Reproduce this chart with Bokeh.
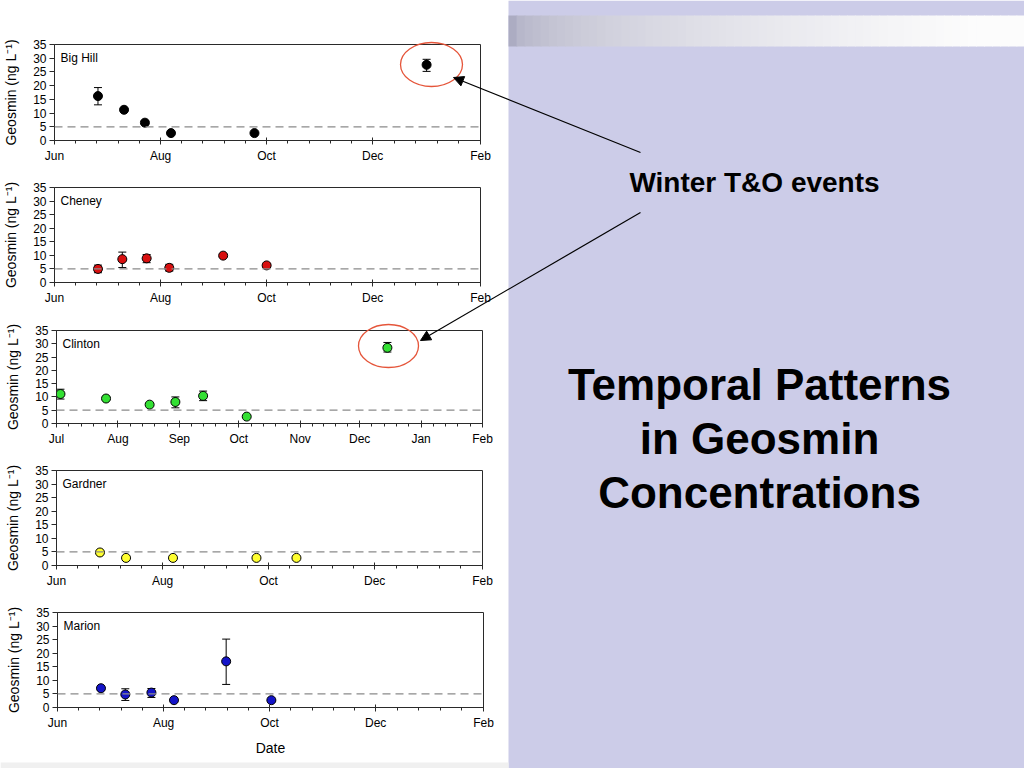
import math
import datetime as dt
from bokeh.plotting import figure
from bokeh.models import (Range1d, FixedTicker, DatetimeTickFormatter, Span, Label,
                          Arrow, NormalHead, Whisker, TeeHead, ColumnDataSource,
                          GridBox, Spacer)
from bokeh.layouts import column
from bokeh.embed import file_html
from bokeh.resources import INLINE

# ---------------- data ----------------
bighill_dates = ["2008-06-26", "2008-07-11", "2008-07-23", "2008-08-07", "2008-09-24", "2009-01-01"]
bighill_vals = [16.2, 11.2, 6.5, 2.7, 2.7, 27.6]
bighill_lo = [13.0, 10.95, 5.8, 2.45, 2.45, 25.2]
bighill_hi = [19.3, 11.45, 7.2, 2.95, 2.95, 29.6]

cheney_dates = ["2008-06-26", "2008-07-10", "2008-07-24", "2008-08-06", "2008-09-06", "2008-10-01"]
cheney_vals = [5.0, 8.6, 8.9, 5.4, 9.9, 6.3]
cheney_lo = [3.6, 5.5, 7.3, 4.2, 9.2, 5.5]
cheney_hi = [6.4, 11.2, 10.3, 6.7, 10.5, 7.0]

clinton_dates = ["2008-07-03", "2008-07-26", "2008-08-17", "2008-08-30", "2008-09-13", "2008-10-05", "2008-12-15"]
clinton_vals = [11.1, 9.4, 7.1, 8.1, 10.4, 2.6, 28.5]
clinton_lo = [9.2, 8.8, 6.6, 5.9, 8.6, 2.35, 26.9]
clinton_hi = [12.9, 10.2, 7.6, 10.0, 12.2, 2.85, 30.5]

gardner_dates = ["2008-06-26", "2008-07-11", "2008-08-07", "2008-09-24", "2008-10-17"]
gardner_vals = [4.8, 2.8, 2.8, 2.8, 2.8]
gardner_lo = [4.0, 2.55, 2.55, 2.55, 2.55]
gardner_hi = [5.6, 3.05, 3.05, 3.05, 3.05]

marion_dates = ["2008-06-26", "2008-07-10", "2008-07-25", "2008-08-07", "2008-09-06", "2008-10-02"]
marion_vals = [7.1, 4.8, 5.5, 2.7, 17.0, 2.7]
marion_lo = [6.3, 2.6, 3.7, 2.45, 8.5, 2.45]
marion_hi = [7.8, 6.9, 7.0, 2.95, 25.2, 2.95]

bimonthly_ticks = ["2008-06-01", "2008-08-01", "2008-10-01", "2008-12-01", "2009-02-01"]
monthly_ticks = ["2008-07-01", "2008-08-01", "2008-09-01", "2008-10-01", "2008-11-01",
                 "2008-12-01", "2009-01-01", "2009-02-01"]
y_ticks = [0, 5, 10, 15, 20, 25, 30, 35]
threshold = 5

names = ["Big Hill", "Cheney", "Clinton", "Gardner", "Marion"]
colors = ["#000000", "#D81010", "#33E033", "#FFFF30", "#1414C8"]

FONT = "Liberation Sans"


def ms(s):
    d = dt.datetime.fromisoformat(s).replace(tzinfo=dt.timezone.utc)
    return d.timestamp() * 1000.0


def minor_between(majors, n=5):
    out = []
    for a, b in zip(majors[:-1], majors[1:]):
        for k in range(1, n):
            out.append(a + (b - a) * k / n)
    return out


# page-pixel layout of each panel: frame left/right/top/bottom, figure top/bottom
layout_px = [
    dict(L=54, R=480, T=44, B=140, ft=0, fb=166),
    dict(L=54, R=480, T=187, B=282, ft=166, fb=308),
    dict(L=56, R=482, T=330, B=425, ft=308, fb=448),
    dict(L=56, R=482, T=470, B=567, ft=448, fb=590),
    dict(L=57, R=483, T=612, B=707, ft=590, fb=768),
]

series = [
    (bighill_dates, bighill_vals, bighill_lo, bighill_hi, bimonthly_ticks),
    (cheney_dates, cheney_vals, cheney_lo, cheney_hi, bimonthly_ticks),
    (clinton_dates, clinton_vals, clinton_lo, clinton_hi, monthly_ticks),
    (gardner_dates, gardner_vals, gardner_lo, gardner_hi, bimonthly_ticks),
    (marion_dates, marion_vals, marion_lo, marion_hi, bimonthly_ticks),
]

LEFT_W = 508
figs = []
for i, (dates, vals, lo, hi, ticks) in enumerate(series):
    g = layout_px[i]
    majors = [ms(t) for t in ticks]
    x0, x1 = majors[0], majors[-1]
    p = figure(width=LEFT_W, height=g["fb"] - g["ft"], x_axis_type="datetime",
               x_range=Range1d(x0, x1), y_range=Range1d(0, 35),
               output_backend="svg", toolbar_location=None, min_border=0,
               min_border_left=g["L"], min_border_right=LEFT_W - g["R"],
               min_border_top=g["T"] - g["ft"], min_border_bottom=g["fb"] - g["B"])
    p.background_fill_color = "white"
    p.border_fill_color = "white"
    p.outline_line_color = "#2a2a2a"
    p.outline_line_width = 1
    p.grid.grid_line_color = None

    xa = p.xaxis[0]
    xa.ticker = FixedTicker(ticks=majors, minor_ticks=minor_between(majors))
    xa.formatter = DatetimeTickFormatter(days="%b", months="%b", years="%b")
    xa.major_tick_in = 3
    xa.major_tick_out = 4
    xa.minor_tick_in = 0
    xa.minor_tick_out = 3
    xa.major_label_standoff = 4
    xa.major_label_text_font = FONT
    xa.major_label_text_font_size = "12px"
    xa.major_label_text_color = "black"
    xa.axis_line_color = "#2a2a2a"
    xa.major_tick_line_color = "#2a2a2a"
    xa.minor_tick_line_color = "#2a2a2a"
    if i == 4:
        xa.axis_label = "Date"
        xa.axis_label_text_font = FONT
        xa.axis_label_text_font_style = "normal"
        xa.axis_label_text_font_size = "14px"
        xa.axis_label_text_color = "black"
        xa.axis_label_standoff = 7

    ya = p.yaxis[0]
    ya.ticker = FixedTicker(ticks=y_ticks)
    ya.major_tick_in = 0
    ya.major_tick_out = 5
    ya.major_label_standoff = 3
    ya.major_label_text_font = FONT
    ya.major_label_text_font_size = "12px"
    ya.major_label_text_color = "black"
    ya.axis_line_color = "#2a2a2a"
    ya.major_tick_line_color = "#2a2a2a"
    ya.axis_label = "Geosmin (ng L\u207b\u00b9)"
    ya.axis_label_text_font = FONT
    ya.axis_label_text_font_style = "normal"
    ya.axis_label_text_font_size = "14px"
    ya.axis_label_text_color = "black"
    ya.axis_label_standoff = 11

    p.add_layout(Span(location=threshold, dimension="width", line_color="#8a8a8a",
                      line_dash="8 5", line_width=1.2))

    xs = [ms(d) for d in dates]
    src = ColumnDataSource(dict(x=xs, y=vals, lo=lo, hi=hi))
    p.add_layout(Whisker(source=src, base="x", upper="hi", lower="lo", dimension="height",
                         line_color="black", line_width=1,
                         upper_head=TeeHead(size=8, line_color="black", line_width=1),
                         lower_head=TeeHead(size=8, line_color="black", line_width=1)))
    p.scatter("x", "y", source=src, size=9, fill_color=colors[i],
              line_color="black", line_width=1)

    p.add_layout(Label(x=x0, y=35, x_offset=6, y_offset=-6, text=names[i],
                       text_baseline="top", text_font=FONT, text_font_size="12px",
                       text_color="black"))
    figs.append(p)

# ---------------- full-page overlay: slide panel, arrows, circles ----------------
ov = figure(width=1024, height=768, x_range=Range1d(0, 1024), y_range=Range1d(768, 0),
            output_backend="svg", toolbar_location=None, min_border=0)
ov.axis.visible = False
ov.grid.grid_line_color = None
ov.outline_line_color = None
ov.background_fill_color = None
ov.border_fill_color = None

PANEL_X0 = 508
ov.quad(left=[PANEL_X0], right=[1024], top=[0], bottom=[768], fill_color="#CCCCE8",
        line_color=None)
ov.quad(left=[0], right=[PANEL_X0], top=[762], bottom=[768], fill_color="#F0F0F0",
        line_color=None)

n = 64
step = (1024 - PANEL_X0) / n
lefts = [PANEL_X0 + step * k for k in range(n)]
rights = [PANEL_X0 + step * (k + 1) + 0.8 for k in range(n)]
base = (172, 172, 194)
cols = []
for k in range(n):
    t = min(1.0, math.sqrt(k / (n - 1)) * 1.05)
    cc = [int(round(b + (252 - b) * t)) for b in base]
    cols.append("#%02x%02x%02x" % tuple(cc))
ov.quad(left=lefts, right=rights, top=[15] * n, bottom=[46] * n, fill_color=cols,
        line_color=None)

arrows = [((640, 152), (453, 77)), ((640, 212), (420, 340))]
for (sx, sy), (ex, ey) in arrows:
    ov.add_layout(Arrow(x_start=sx, y_start=sy, x_end=ex, y_end=ey,
                        end=NormalHead(size=10, fill_color="black", line_color="black"),
                        line_color="black", line_width=1.2))

ov.ellipse(x=[431, 388], y=[64, 345.5], width=[62, 60], height=[44, 43],
           fill_color=None, line_color="#E5553A", line_width=1.3)

ov.add_layout(Label(x=754, y=182, text="Winter T&O events", text_align="center",
                    text_baseline="middle", text_font=FONT, text_font_style="bold",
                    text_font_size="28px", text_color="black"))
title_lines = ["Temporal Patterns", "in Geosmin", "Concentrations"]
for line, yc in zip(title_lines, [384, 438, 492]):
    ov.add_layout(Label(x=759, y=yc, text=line, text_align="center",
                        text_baseline="middle", text_font=FONT, text_font_style="bold",
                        text_font_size="44px", text_color="black"))

children = [(column(f, spacing=0), i, 0) for i, f in enumerate(figs)]
children.append((Spacer(width=1024 - LEFT_W, height=768), 0, 1, 5, 1))
children.append((column(ov, spacing=0), 0, 0, 5, 2))
page = GridBox(children=children, spacing=0)
open("out.html", "w").write(file_html(page, INLINE))
